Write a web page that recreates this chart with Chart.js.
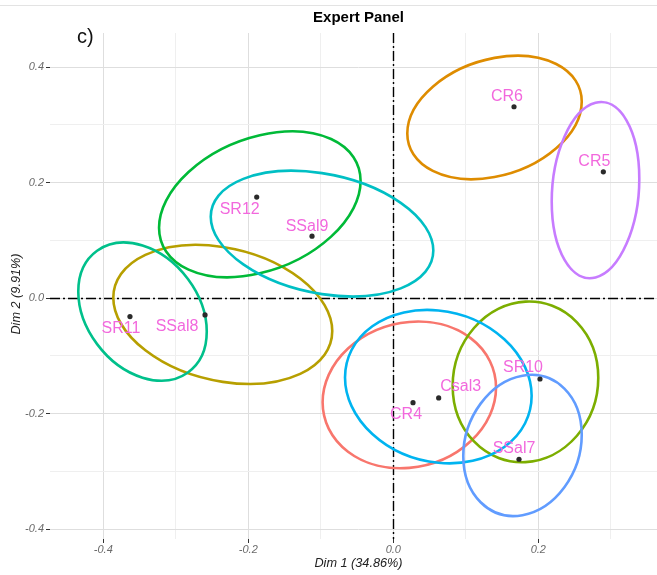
<!DOCTYPE html>
<html>
<head>
<meta charset="utf-8">
<title>Expert Panel</title>
<script src="https://cdn.jsdelivr.net/npm/chart.js@4/dist/chart.umd.min.js"></script>
<style>
  html, body { margin: 0; padding: 0; background: #fff; overflow: hidden; width: 657px; height: 575px; }
  #wrap { position: absolute; left: 0; top: 0; width: 680px; height: 575px; }
  #rule { position: absolute; left: 0; top: 5px; width: 657px; height: 1px; background: #e3e3e3; }
</style>
</head>
<body>
<div id="rule"></div>
<div id="wrap"><canvas id="chart" width="680" height="575"></canvas></div>
<script>
// Products scored by the expert panel, positioned on the first two dimensions
const categories = ['CR4', 'CR6', 'SSal8', 'SR10', 'SR12', 'SR11', 'SSal9', 'Csal3', 'SSal7', 'CR5'];
const dim1 = [0.0272, 0.1665, -0.2597, 0.2023, -0.1884, -0.3632, -0.1121, 0.0626, 0.1734, 0.2897];
const dim2 = [-0.1808, 0.3313, -0.0290, -0.1399, 0.1749, -0.0319, 0.1073, -0.1727, -0.2788, 0.2187];

// Confidence ellipse of each product: centre, half-extent on each dimension, correlation
const ellipseCx = [0.0221, 0.1396, -0.2352, 0.1823, -0.1841, -0.3459, -0.0983, 0.0621, 0.1782, 0.2789];
const ellipseCy = [-0.1674, 0.3127, -0.0281, -0.1449, 0.1624, -0.0232, 0.1117, -0.1531, -0.2549, 0.1870];
const ellipseRx = [0.1196, 0.1203, 0.1510, 0.1004, 0.1390, 0.0886, 0.1535, 0.1287, 0.0817, 0.0604];
const ellipseRy = [0.1269, 0.1068, 0.1203, 0.1390, 0.1261, 0.1195, 0.1087, 0.1328, 0.1221, 0.1524];
const ellipseRho = [0.10, 0.26, -0.24, 0.05, 0.32, -0.29, -0.27, -0.12, 0.15, 0.13];

// Axis ticks (every 0.1, labelled every 0.2)
const xTickValues = [-0.4, -0.3, -0.2, -0.1, 0, 0.1, 0.2, 0.3];
const xTickLabels = ['-0.4', '', '-0.2', '', '0.0', '', '0.2', ''];
const yTickValues = [-0.4, -0.3, -0.2, -0.1, 0, 0.1, 0.2, 0.3, 0.4];
const yTickLabels = ['-0.4', '', '-0.2', '', '0.0', '', '0.2', '', '0.4'];

// Styling
const groupColors = ['#F8766D', '#DE8C00', '#B79F00', '#7CAE00', '#00BA38', '#00C08B', '#00BFC4', '#00B4F0', '#619CFF', '#C77CFF'];
const labelShiftX = [-7, -7, -28, -17, -17, -9, -5, 22, -5, -9];
const labelShiftY = [12, -10, 12, -11, 12, 12, -10, -11, -11, -10];
const FONT = '"Liberation Sans", Arial, Helvetica, sans-serif';

const ellipsePlugin = {
  id: 'ellipses',
  beforeDatasetsDraw(chart) {
    const { ctx, chartArea: a, scales: { x, y } } = chart;
    const kx = x.getPixelForValue(1) - x.getPixelForValue(0);
    const ky = y.getPixelForValue(0) - y.getPixelForValue(1);
    ctx.save();
    ctx.beginPath();
    ctx.rect(a.left, a.top, a.right - a.left, a.bottom - a.top);
    ctx.clip();

    // reference lines through the origin
    ctx.strokeStyle = '#000';
    ctx.lineWidth = 1.4;
    ctx.setLineDash([10, 3, 2, 3]);
    const x0 = Math.round(x.getPixelForValue(0)) + 0.5;
    const y0 = Math.round(y.getPixelForValue(0)) + 0.5;
    ctx.beginPath();
    ctx.moveTo(x0, a.top); ctx.lineTo(x0, a.bottom);
    ctx.moveTo(a.left, y0); ctx.lineTo(a.right, y0);
    ctx.stroke();
    ctx.setLineDash([]);

    // one ellipse per product
    categories.forEach((c, i) => {
      const rho = ellipseRho[i];
      const s = Math.sqrt(1 - rho * rho);
      ctx.save();
      ctx.translate(x.getPixelForValue(ellipseCx[i]), y.getPixelForValue(ellipseCy[i]));
      ctx.transform(ellipseRx[i] * kx, -ellipseRy[i] * ky * rho, 0, -ellipseRy[i] * ky * s, 0, 0);
      ctx.beginPath();
      ctx.arc(0, 0, 1, 0, Math.PI * 2);
      ctx.restore();
      ctx.strokeStyle = groupColors[i];
      ctx.lineWidth = 2.6;
      ctx.stroke();
    });
    ctx.restore();
  },
  afterDatasetsDraw(chart) {
    const { ctx, scales: { x, y } } = chart;
    ctx.save();
    ctx.font = '16px ' + FONT;
    ctx.fillStyle = '#F268DD';
    ctx.textAlign = 'center';
    ctx.textBaseline = 'middle';
    categories.forEach((c, i) => {
      ctx.fillText(c, x.getPixelForValue(dim1[i]) + labelShiftX[i], y.getPixelForValue(dim2[i]) + labelShiftY[i]);
    });
    // panel letter
    ctx.font = '20px ' + FONT;
    ctx.fillStyle = '#111';
    ctx.textAlign = 'left';
    ctx.textBaseline = 'alphabetic';
    ctx.fillText('c)', 77, 43);
    ctx.restore();
  },
  afterDraw(chart) {
    // vertical axis title, set slightly below the panel's middle
    const { ctx, chartArea: a } = chart;
    ctx.save();
    ctx.translate(16, (a.top + a.bottom) / 2 + 8);
    ctx.rotate(-Math.PI / 2);
    ctx.font = 'italic 12.7px ' + FONT;
    ctx.fillStyle = '#222';
    ctx.textAlign = 'center';
    ctx.textBaseline = 'middle';
    ctx.fillText('Dim 2 (9.91%)', 0, 0);
    ctx.restore();
  }
};

const isMajor = (labels) => (ctx) => labels[ctx.index] !== '';

new Chart(document.getElementById('chart'), {
  type: 'scatter',
  data: {
    datasets: [{
      data: categories.map((c, i) => ({ x: dim1[i], y: dim2[i] })),
      pointRadius: 2.6,
      pointHoverRadius: 2.6,
      backgroundColor: '#2a2a2a',
      borderWidth: 0
    }]
  },
  options: {
    responsive: false,
    animation: false,
    devicePixelRatio: 1,
    layout: { padding: { left: 0, right: 13, top: 0, bottom: 0 } },
    plugins: {
      legend: { display: false },
      tooltip: { enabled: false },
      title: {
        display: true,
        fullSize: false,
        text: 'Expert Panel',
        color: '#000',
        font: { family: FONT, size: 15, weight: 'bold' },
        padding: { top: 9, bottom: 6 }
      }
    },
    scales: {
      x: {
        type: 'linear',
        min: -0.4735,
        max: 0.3775,
        afterBuildTicks: (s) => { s.ticks = xTickValues.map(v => ({ value: v })); },
        afterFit: (s) => { s.height = 36; },
        border: { display: false },
        grid: {
          color: (ctx) => isMajor(xTickLabels)(ctx) ? '#DEDEDE' : '#EFEFEF',
          lineWidth: 1,
          tickLength: 4,
          tickColor: (ctx) => isMajor(xTickLabels)(ctx) ? '#333' : 'rgba(0,0,0,0)'
        },
        ticks: {
          autoSkip: false,
          maxRotation: 0,
          padding: 0,
          color: '#6b6b6b',
          font: { family: FONT, size: 11, style: 'italic' },
          callback: (v, i) => xTickLabels[i]
        },
        title: {
          display: true,
          text: 'Dim 1 (34.86%)',
          color: '#222',
          font: { family: FONT, size: 12.7, style: 'italic' },
          padding: { top: 0, bottom: 4.4 }
        }
      },
      y: {
        type: 'linear',
        min: -0.4168,
        max: 0.4589,
        afterBuildTicks: (s) => { s.ticks = yTickValues.map(v => ({ value: v })); },
        afterFit: (s) => { s.width = 50; },
        border: { display: false },
        grid: {
          color: (ctx) => isMajor(yTickLabels)(ctx) ? '#DEDEDE' : '#EFEFEF',
          lineWidth: 1,
          tickLength: 4,
          tickColor: (ctx) => isMajor(yTickLabels)(ctx) ? '#333' : 'rgba(0,0,0,0)'
        },
        ticks: {
          autoSkip: false,
          padding: 2,
          color: '#6b6b6b',
          font: { family: FONT, size: 11, style: 'italic' },
          callback: (v, i) => yTickLabels[i]
        },
        title: { display: false }
      }
    }
  },
  plugins: [ellipsePlugin]
});
</script>
</body>
</html>
